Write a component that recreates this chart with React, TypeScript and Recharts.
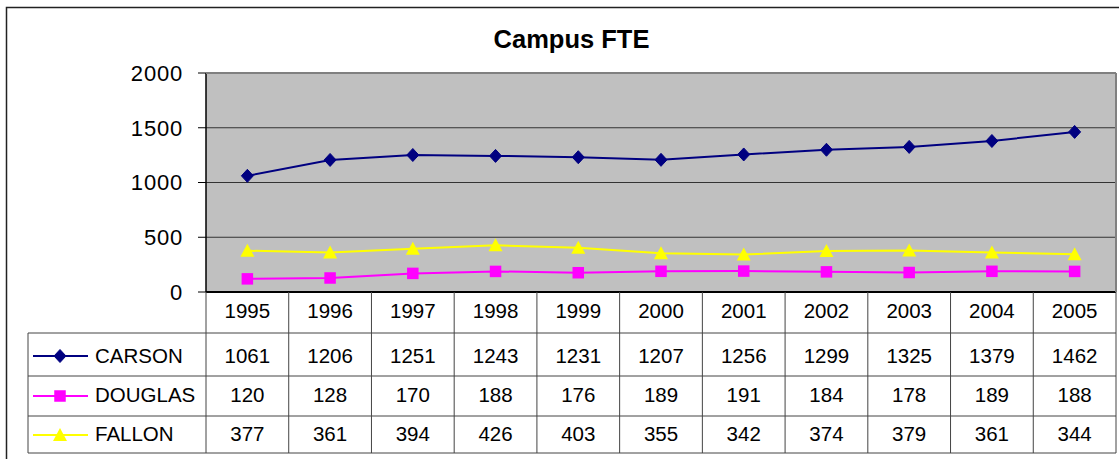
import React from 'react';
import { LineChart, Line, XAxis, YAxis, CartesianGrid } from 'recharts';

const years = ['1995', '1996', '1997', '1998', '1999', '2000', '2001', '2002', '2003', '2004', '2005'];
const carson = [1061, 1206, 1251, 1243, 1231, 1207, 1256, 1299, 1325, 1379, 1462];
const douglas = [120, 128, 170, 188, 176, 189, 191, 184, 178, 189, 188];
const fallon = [377, 361, 394, 426, 403, 355, 342, 374, 379, 361, 344];
const seriesNames = ['CARSON', 'DOUGLAS', 'FALLON'];
const seriesColors = ['#000080', '#FF00FF', '#FFFF00'];
const yTicks = [0, 500, 1000, 1500, 2000];
const title = 'Campus FTE';

const data = years.map((y, i) => ({ year: y, CARSON: carson[i], DOUGLAS: douglas[i], FALLON: fallon[i] }));
const seriesValues = [carson, douglas, fallon];

// layout
const W = 1119;
const H = 459;
const PLOT_L = 206;
const PLOT_R = 1116;
const PLOT_T = 73;
const PLOT_B = 292;
const STEP = (PLOT_R - PLOT_L) / years.length;
const TABLE_L = 28;
const ROW_LINES = [333, 376, 416, 453];
const HEADER_CY = 311;
const ROW_CY = [355.5, 394.5, 434];
const KEY_CY = [356, 396, 435];
const FONT = '"Liberation Sans", Arial, sans-serif';
const FS = 20.5;
const LINE_C = '#444';

const Diamond = ({ cx, cy, color }: any) => (
  <polygon points={`${cx},${cy - 6.5} ${cx + 6},${cy} ${cx},${cy + 6.5} ${cx - 6},${cy}`} fill={color} stroke={color} />
);
const Square = ({ cx, cy, color }: any) => (
  <rect x={cx - 5.75} y={cy - 5.75} width={11.5} height={11.5} fill={color} />
);
const Triangle = ({ cx, cy, color }: any) => (
  <polygon points={`${cx},${cy - 7} ${cx + 7},${cy + 6} ${cx - 7},${cy + 6}`} fill={color} />
);
const markers = [Diamond, Square, Triangle];

const makeDot = (si: number) => (props: any) => {
  const { cx, cy, index } = props;
  if (cx == null || cy == null) return <g key={`d${si}-${index}`} />;
  const M = markers[si];
  return <M key={`d${si}-${index}`} cx={cx} cy={cy} color={seriesColors[si]} />;
};

const TableTick = (props: any) => {
  const { x, payload } = props;
  const i = years.indexOf(String(payload.value));
  const half = STEP / 2;
  return (
    <g>
      <line x1={x - half} x2={x - half} y1={PLOT_B} y2={ROW_LINES[3]} stroke={LINE_C} strokeWidth={1} />
      {i === years.length - 1 && (
        <line x1={x + half} x2={x + half} y1={PLOT_B} y2={ROW_LINES[3]} stroke={LINE_C} strokeWidth={1} />
      )}
      <text x={x} y={HEADER_CY + FS * 0.36} textAnchor="middle" fontSize={FS} fontFamily={FONT} fill="#000">
        {payload.value}
      </text>
      {seriesValues.map((vals, si) => (
        <text key={si} x={x} y={ROW_CY[si] + FS * 0.36} textAnchor="middle" fontSize={FS} fontFamily={FONT} fill="#000">
          {vals[i]}
        </text>
      ))}
    </g>
  );
};

export default function App() {
  return (
    <div style={{ position: 'absolute', left: 0, top: 0, width: W, height: H, background: '#fff', overflow: 'hidden' }}>
      <LineChart width={W} height={H} data={data} margin={{ top: PLOT_T, right: W - PLOT_R, left: 0, bottom: 0 }}>
        <CartesianGrid vertical={false} horizontal={true} fill="#C0C0C0" stroke="#333" strokeWidth={1} fillOpacity={1} />
        <XAxis
          dataKey="year"
          height={H - PLOT_B}
          padding={{ left: STEP / 2, right: STEP / 2 }}
          interval={0}
          tickLine={false}
          axisLine={{ stroke: '#000', strokeWidth: 2 }}
          tick={<TableTick />}
        />
        <YAxis
          width={PLOT_L}
          domain={[0, 2000]}
          ticks={yTicks}
          interval={0}
          tickSize={8}
          tickMargin={15}
          tickLine={{ stroke: '#000' }}
          axisLine={{ stroke: '#000', strokeWidth: 1.5 }}
          tick={{ fontSize: 22, fontFamily: FONT, fill: '#000', letterSpacing: 0.8 }}
        />
        {seriesNames.map((name, si) => (
          <Line
            key={name}
            dataKey={name}
            type="linear"
            stroke={seriesColors[si]}
            strokeWidth={2}
            dot={makeDot(si)}
            activeDot={false}
            isAnimationActive={false}
          />
        ))}
      </LineChart>
      <svg width={W} height={H} style={{ position: 'absolute', left: 0, top: 0, pointerEvents: 'none' }}>
        <rect x={6.5} y={7.5} width={W + 20} height={H + 20} fill="none" stroke="#222" strokeWidth={1.5} />
        <text x={571.5} y={48} textAnchor="middle" fontSize={25.5} fontWeight="bold" fontFamily={FONT} fill="#000">
          {title}
        </text>
        <line x1={PLOT_L} x2={PLOT_R} y1={PLOT_T} y2={PLOT_T} stroke="#808080" strokeWidth={2} />
        <line x1={PLOT_R} x2={PLOT_R} y1={PLOT_T} y2={PLOT_B} stroke="#808080" strokeWidth={2} />
        {ROW_LINES.map((y) => (
          <line key={y} x1={TABLE_L} x2={PLOT_R} y1={y} y2={y} stroke={LINE_C} strokeWidth={1} />
        ))}
        <line x1={TABLE_L} x2={TABLE_L} y1={ROW_LINES[0]} y2={ROW_LINES[3]} stroke={LINE_C} strokeWidth={1} />
        {seriesNames.map((name, si) => {
          const M = markers[si];
          return (
            <g key={name}>
              <line x1={33} x2={88} y1={KEY_CY[si]} y2={KEY_CY[si]} stroke={seriesColors[si]} strokeWidth={2} />
              <M cx={60} cy={KEY_CY[si]} color={seriesColors[si]} />
              <text x={95} y={ROW_CY[si] + FS * 0.36} fontSize={FS} fontFamily={FONT} fill="#000">
                {name}
              </text>
            </g>
          );
        })}
      </svg>
    </div>
  );
}
